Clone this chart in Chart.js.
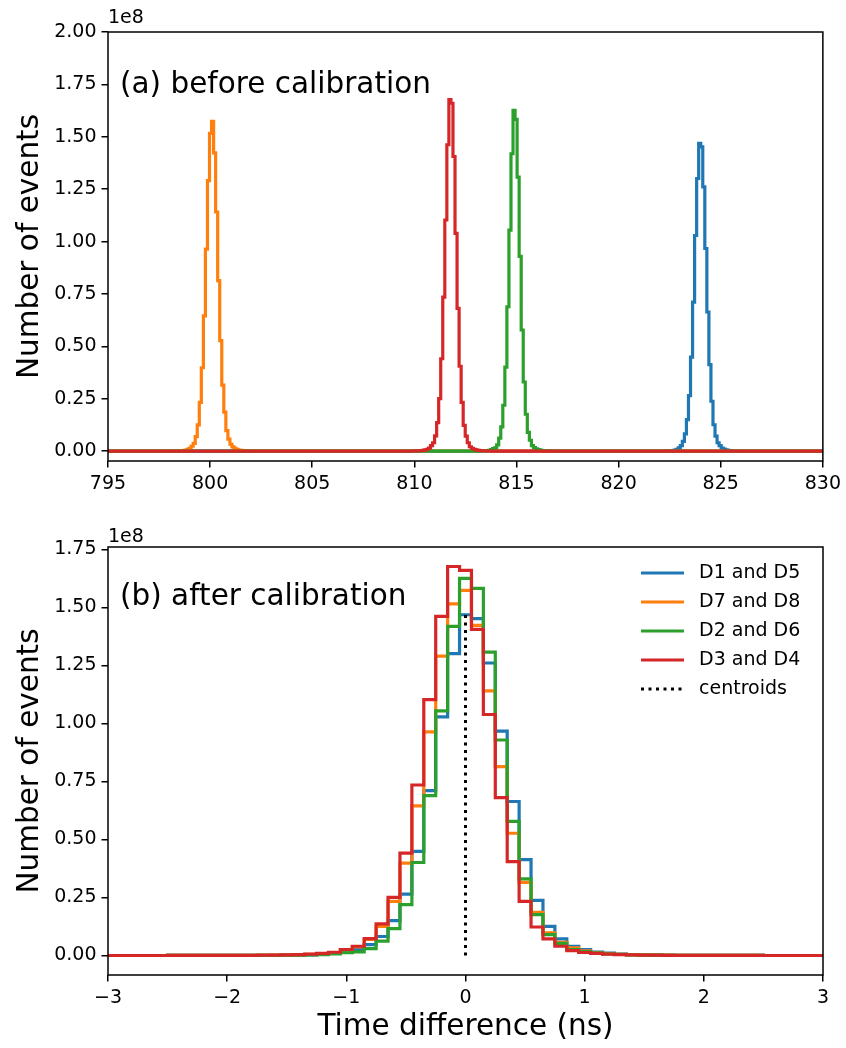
<!DOCTYPE html>
<html><head><meta charset="utf-8">
<script src="https://cdn.jsdelivr.net/npm/chart.js@4.4.1/dist/chart.umd.min.js"></script>
<style>
html,body{margin:0;padding:0;background:#fff;}
#wrap{position:relative;width:846px;height:1048px;overflow:hidden;}
canvas{position:absolute;left:0;}
</style></head><body>
<div id="wrap">
<canvas id="topChart" width="846" height="500" style="top:0;width:846px;height:500px"></canvas>
<canvas id="botChart" width="846" height="548" style="top:500px;width:846px;height:548px"></canvas>
</div>
<script>
// ---- data (counts in units of 1e8, 0.1 ns bins) ----
const binCenters = [-2.0,-1.9,-1.8,-1.7,-1.6,-1.5,-1.4,-1.3,-1.2,-1.1,-1.0,-0.9,-0.8,-0.7,-0.6,-0.5,-0.4,-0.3,-0.2,-0.1,0.0,0.1,0.2,0.3,0.4,0.5,0.6,0.7,0.8,0.9,1.0,1.1,1.2,1.3,1.4,1.5,1.6,1.7,1.8,1.9,2.0];
const seriesLabels = ['D1 and D5','D7 and D8','D2 and D6','D3 and D4'];
const seriesColors = ['#1f77b4','#ff7f0e','#2ca02c','#d62728'];
const countsD1D5 = [0.0003,0.0004,0.0005,0.0007,0.001,0.0015,0.002,0.003,0.005,0.009,0.016,0.026,0.047,0.082,0.150,0.265,0.449,0.711,1.029,1.301,1.469,1.452,1.261,0.967,0.664,0.413,0.238,0.126,0.072,0.040,0.026,0.015,0.010,0.006,0.004,0.003,0.002,0.0015,0.001,0.0007,0.0005];
const countsD7D8 = [0.0004,0.0005,0.0007,0.001,0.0015,0.002,0.003,0.005,0.008,0.013,0.024,0.037,0.069,0.125,0.233,0.398,0.645,0.964,1.291,1.516,1.574,1.423,1.141,0.814,0.527,0.315,0.186,0.098,0.057,0.033,0.020,0.013,0.008,0.005,0.004,0.003,0.002,0.0015,0.001,0.0008,0.0006];
const countsD2D6 = [0.0002,0.0003,0.0004,0.0005,0.0008,0.0012,0.002,0.003,0.004,0.007,0.012,0.016,0.030,0.062,0.116,0.219,0.401,0.689,1.055,1.419,1.626,1.583,1.308,0.929,0.578,0.330,0.176,0.090,0.052,0.026,0.017,0.011,0.007,0.005,0.003,0.002,0.0015,0.001,0.0007,0.0005,0.0003];
const countsD3D4 = [0.0005,0.0007,0.001,0.0013,0.002,0.003,0.004,0.006,0.009,0.014,0.026,0.040,0.073,0.136,0.251,0.441,0.735,1.103,1.462,1.677,1.660,1.406,1.039,0.681,0.405,0.233,0.123,0.072,0.040,0.021,0.013,0.009,0.006,0.004,0.003,0.002,0.0015,0.001,0.0008,0.0006,0.0004];
const rawCentroids = [823.97, 800.12, 814.88, 811.84]; // ns, before calibration
const centroidHeight = 1.48;
const topXTicks = [795,800,805,810,815,820,825,830];
const topYTicks = [0,0.25,0.5,0.75,1.0,1.25,1.5,1.75,2.0];
const botXTicks = [-3,-2,-1,0,1,2,3];
const botYTicks = [0,0.25,0.5,0.75,1.0,1.25,1.5,1.75];

const allCounts = [countsD1D5, countsD7D8, countsD2D6, countsD3D4];

// ---- helpers ----
const FONT = "'DejaVu Sans', sans-serif";
function histPoints(values, shift, xmin, xmax){
  const pts = [{x:xmin, y:0}];
  binCenters.forEach((c,i)=>pts.push({x:c+shift, y:values[i]}));
  pts.push({x:xmax, y:0});
  return pts;
}
function histDatasets(shifts, xmin, xmax){
  return allCounts.map((vals,i)=>({
    label: seriesLabels[i],
    data: histPoints(vals, shifts[i], xmin, xmax),
    borderColor: seriesColors[i],
    borderWidth: 3.2,
    stepped: 'middle',
    pointRadius: 0,
    fill: false,
    borderJoinStyle: 'miter',
    order: 4 - i
  }));
}
function axisCommon(ticksArr, fmt, min, max){
  return {
    type:'linear', min:min, max:max,
    afterBuildTicks: s => { s.ticks = ticksArr.map(v=>({value:v})); },
    ticks:{ color:'#000', font:{family:FONT, size:19}, padding:5, callback: fmt, maxRotation:0, autoSkip:false },
    grid:{ display:true, drawOnChartArea:false, drawTicks:true, tickLength:6.5, color:'#000', lineWidth:1.5 },
    border:{ display:false }
  };
}
const fmt2 = v => Number(v).toFixed(2);
const fmtInt = v => { const n = Math.round(v); return n < 0 ? '\u2212' + Math.abs(n) : String(n); };

function overlayPlugin(opts){
  return {
    id:'overlay',
    afterDatasetsDraw(chart){
      const {ctx, chartArea:a} = chart;
      ctx.save();
      ctx.strokeStyle = '#000'; ctx.lineWidth = 1.5;
      ctx.strokeRect(a.left, a.top, a.right - a.left, a.bottom - a.top);
      ctx.fillStyle = '#000';
      ctx.textAlign = 'left'; ctx.textBaseline = 'middle';
      ctx.font = "19px " + FONT;
      ctx.fillText('1e8', a.left, opts.expY);
      ctx.font = "29.5px " + FONT;
      ctx.fillText(opts.note, 120, opts.noteY);
      if (opts.legend){
        const rows = seriesLabels.map((l,i)=>({label:l, color:seriesColors[i], dash:[]}));
        rows.push({label:'centroids', color:'#000', dash:[3,4.5]});
        ctx.font = "19px " + FONT;
        rows.forEach((r,i)=>{
          const y = opts.legendY + i*29;
          ctx.beginPath();
          ctx.setLineDash(r.dash);
          ctx.strokeStyle = r.color; ctx.lineWidth = 3.2; ctx.lineCap = 'butt';
          ctx.moveTo(641, y); ctx.lineTo(684, y); ctx.stroke();
          ctx.setLineDash([]);
          ctx.fillStyle = '#000';
          ctx.fillText(r.label, 699, y);
        });
      }
      ctx.restore();
    }
  };
}

// ---- top chart: before calibration ----
new Chart(document.getElementById('topChart'), {
  type:'line',
  data:{ datasets: histDatasets(rawCentroids, 795, 830) },
  options:{
    responsive:false, animation:false, devicePixelRatio:1,
    layout:{ padding:{ top:32, right:23, left:0, bottom:0 } },
    plugins:{ legend:{display:false}, tooltip:{enabled:false} },
    scales:{
      x: Object.assign(axisCommon(topXTicks, fmtInt, 795, 830), { afterFit: s => { s.height = 39; } }),
      y: Object.assign(axisCommon(topYTicks, fmt2, -0.047, 2.0), {
        afterFit: s => { s.width = 108; },
        title:{ display:true, text:'Number of events', color:'#000', font:{family:FONT, size:29.5}, padding:{top:13, bottom:0} }
      })
    }
  },
  plugins:[ overlayPlugin({ note:'(a) before calibration', noteY:85, expY:18 }) ]
});

// ---- bottom chart: after calibration ----
const botSets = histDatasets([0,0,0,0], -3, 3);
botSets.push({
  label:'centroids',
  data:[{x:0, y:0},{x:0, y:centroidHeight}],
  borderColor:'#000', borderWidth:3, borderDash:[3,4.5], borderCapStyle:'butt',
  pointRadius:0, fill:false, order:0
});
new Chart(document.getElementById('botChart'), {
  type:'line',
  data:{ datasets: botSets },
  options:{
    responsive:false, animation:false, devicePixelRatio:1,
    layout:{ padding:{ top:47, right:23, left:0, bottom:0 } },
    plugins:{ legend:{display:false}, tooltip:{enabled:false} },
    scales:{
      x: Object.assign(axisCommon(botXTicks, fmtInt, -3, 3), {
        afterFit: s => { s.height = 73; },
        title:{ display:true, text:'Time difference (ns)', color:'#000', font:{family:FONT, size:29.5}, padding:{top:0, bottom:3} }
      }),
      y: Object.assign(axisCommon(botYTicks, fmt2, -0.084, 1.761), {
        afterFit: s => { s.width = 108; },
        title:{ display:true, text:'Number of events', color:'#000', font:{family:FONT, size:29.5}, padding:{top:13, bottom:0} }
      })
    }
  },
  plugins:[ overlayPlugin({ note:'(b) after calibration', noteY:97, expY:37, legend:true, legendY:73 }) ]
});
</script>
</body></html>
